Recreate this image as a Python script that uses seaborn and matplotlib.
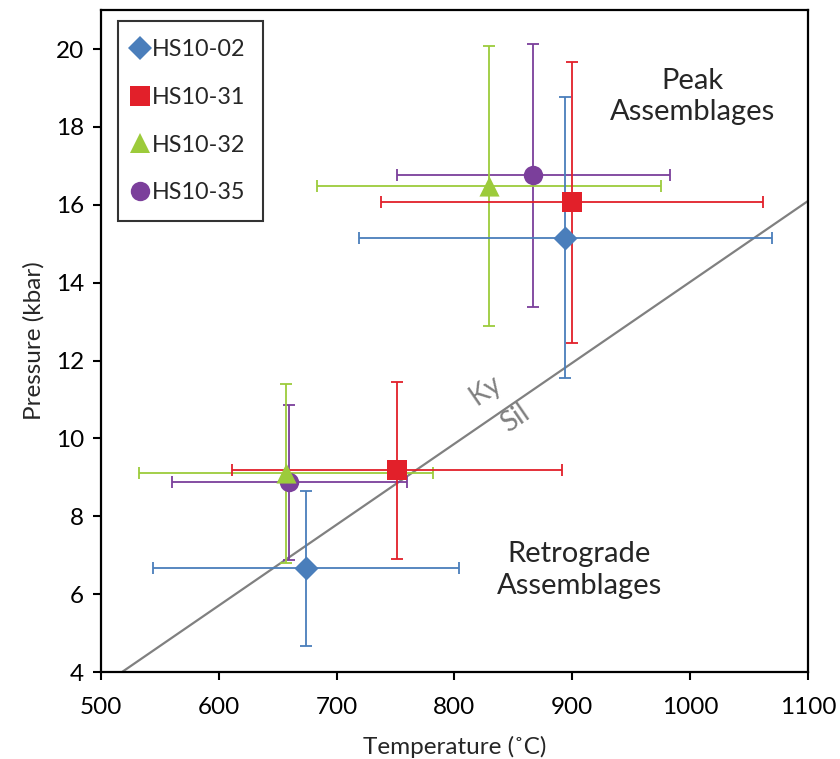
import matplotlib
matplotlib.use("Agg")
import matplotlib.pyplot as plt
import seaborn as sns
import pandas as pd
import numpy as np

# Sample names and their stage estimates (temperature in °C, pressure in kbar)
samples = ["HS10-02", "HS10-31", "HS10-32", "HS10-35"]

peak_T = [894, 900, 829, 867]
peak_P = [15.16, 16.06, 16.49, 16.76]
peak_T_err = [175, 162, 146, 116]
peak_P_err = [3.6, 3.62, 3.6, 3.38]

retro_T = [674, 751, 657, 660]
retro_P = [6.66, 9.18, 9.10, 8.87]
retro_T_err = [130, 140, 125, 100]
retro_P_err = [2.0, 2.28, 2.3, 2.0]

# Kyanite–sillimanite reaction boundary
ky_sil_T = [518, 1100]
ky_sil_P = [4.0, 16.1]

colors = {"HS10-02": "#4A7EBB", "HS10-31": "#E2202A",
          "HS10-32": "#9CCB3B", "HS10-35": "#7B3F9B"}
markers = {"HS10-02": "D", "HS10-31": "s", "HS10-32": "^", "HS10-35": "o"}
sizes = {"HS10-02": 150, "HS10-31": 200, "HS10-32": 210, "HS10-35": 195}

df = pd.DataFrame({
    "sample": samples * 2,
    "stage": ["Peak"] * 4 + ["Retrograde"] * 4,
    "T": peak_T + retro_T,
    "P": peak_P + retro_P,
    "T_err": peak_T_err + retro_T_err,
    "P_err": peak_P_err + retro_P_err,
})

sns.set_theme(style="white")
plt.rcParams["font.family"] = ["Lato", "DejaVu Sans"]

fig = plt.figure(figsize=(8.4, 7.59), dpi=100)
ax = fig.add_axes([0.120, 0.1146, 0.842, 0.872])

ax.plot(ky_sil_T, ky_sil_P, color="#808080", lw=1.6, zorder=1)

draw_order = ["HS10-35", "HS10-32", "HS10-31", "HS10-02"]
for s in draw_order:
    sub = df[df["sample"] == s]
    ax.errorbar(sub["T"], sub["P"], xerr=sub["T_err"], yerr=sub["P_err"],
                fmt="none", ecolor=colors[s], elinewidth=1.3,
                capsize=4.5, capthick=1.3, zorder=2)

for s in draw_order:
    sub = df[df["sample"] == s]
    sns.scatterplot(data=sub, x="T", y="P", color=colors[s], marker=markers[s],
                    s=sizes[s], linewidth=0, ax=ax, zorder=3, legend=False)

handles = [plt.Line2D([], [], linestyle="none", marker=markers[s],
                      markersize=np.sqrt(sizes[s]), color=colors[s],
                      markeredgewidth=0, label=s) for s in samples]
leg = ax.legend(handles=handles, loc="upper left", bbox_to_anchor=(0.024, 0.983),
                frameon=True, fancybox=False, edgecolor="black", fontsize=16.8,
                handlelength=0.4, handletextpad=0.3, labelspacing=1.15,
                borderpad=0.75, borderaxespad=0)
leg.get_frame().set_linewidth(1.5)

ax.text(1002, 18.79, "Peak\nAssemblages", ha="center", va="center",
        fontsize=21, linespacing=1.25)
ax.text(906, 6.62, "Retrograde\nAssemblages", ha="center", va="center",
        fontsize=21, linespacing=1.25)
ax.text(826, 11.23, "Ky", color="#808080", fontsize=20, rotation=34.5,
        ha="center", va="center", rotation_mode="anchor")
ax.text(852, 10.51, "Sil", color="#808080", fontsize=20, rotation=34.5,
        ha="center", va="center", rotation_mode="anchor")

ax.set_xlim(500, 1100)
ax.set_ylim(4, 21)
ax.set_xticks(np.arange(500, 1101, 100))
ax.set_yticks(np.arange(4, 21, 2))
ax.set_xlabel("Temperature (˚C)", fontsize=17.5, labelpad=13)
ax.set_ylabel("Pressure (kbar)", fontsize=17.5, labelpad=8)
ax.tick_params(axis="both", which="both", direction="out", length=6, width=1.5,
               labelsize=17.5, colors="black", bottom=True, left=True, pad=6)
ax.tick_params(axis="x", pad=12)
for sp in ax.spines.values():
    sp.set_color("black")
    sp.set_linewidth(1.6)

fig.savefig("out.png", dpi=100)
